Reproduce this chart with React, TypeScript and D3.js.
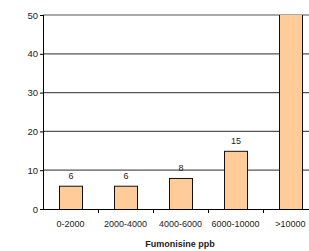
import { useEffect, useRef } from "react";
import * as d3 from "d3";

const categories = ["0-2000", "2000-4000", "4000-6000", "6000-10000", ">10000"];
const values = [6, 6, 8, 15, 65];
const yTicks = [0, 10, 20, 30, 40, 50];
const xTitle = "Fumonisine ppb";

export default function App() {
  const svgRef = useRef<SVGSVGElement>(null);

  useEffect(() => {
    const svg = d3.select(svgRef.current);
    svg.selectAll("*").remove();

    const width = 309;
    const height = 251;
    const left = 43;
    const top = 15;
    const bottom = 209;
    const right = 318;

    const x = d3.scaleBand().domain(categories).range([left, right]).paddingInner(0).paddingOuter(0);
    const y = d3.scaleLinear().domain([0, 50]).range([bottom, top]);
    const font = "Liberation Sans, Arial, sans-serif";

    svg.attr("width", width).attr("height", height);

    svg
      .append("defs")
      .append("clipPath")
      .attr("id", "plot")
      .append("rect")
      .attr("x", left)
      .attr("y", top)
      .attr("width", right - left)
      .attr("height", bottom - top);

    // gridlines
    svg
      .selectAll("line.grid")
      .data(yTicks.filter((d) => d > 0))
      .enter()
      .append("line")
      .attr("x1", left)
      .attr("x2", right)
      .attr("y1", (d) => y(d))
      .attr("y2", (d) => y(d))
      .attr("stroke", "#555")
      .attr("stroke-width", 1.2);

    // bars
    const bw = 23;
    svg
      .append("g")
      .attr("clip-path", "url(#plot)")
      .selectAll("rect")
      .data(values)
      .enter()
      .append("rect")
      .attr("x", (d, i) => x(categories[i])! + x.bandwidth() / 2 - bw / 2 + 0.5)
      .attr("y", (d) => y(d) + 0.5)
      .attr("width", bw)
      .attr("height", (d) => bottom - y(d))
      .attr("fill", "#FFCC99")
      .attr("stroke", "#111")
      .attr("stroke-width", 1);

    // value labels
    svg
      .selectAll("text.val")
      .data(values.filter((d) => d <= 50))
      .enter()
      .append("text")
      .attr("x", (d, i) => x(categories[i])! + x.bandwidth() / 2 + 0.5)
      .attr("y", (d) => y(d) - 7)
      .attr("text-anchor", "middle")
      .attr("font-family", font)
      .attr("font-size", 9)
      .attr("fill", "#222")
      .text((d) => d);

    // y axis
    svg
      .append("line")
      .attr("x1", left + 0.5)
      .attr("x2", left + 0.5)
      .attr("y1", top)
      .attr("y2", bottom)
      .attr("stroke", "#000");
    svg
      .selectAll("line.yt")
      .data(yTicks)
      .enter()
      .append("line")
      .attr("x1", left - 3)
      .attr("x2", left)
      .attr("y1", (d) => y(d) + 0.5)
      .attr("y2", (d) => y(d) + 0.5)
      .attr("stroke", "#000");
    svg
      .selectAll("text.yl")
      .data(yTicks)
      .enter()
      .append("text")
      .attr("x", left - 5)
      .attr("y", (d) => y(d) + 3.5)
      .attr("text-anchor", "end")
      .attr("font-family", font)
      .attr("font-size", 9.5)
      .attr("fill", "#222")
      .text((d) => d);

    // x axis
    svg
      .append("line")
      .attr("x1", left)
      .attr("x2", right)
      .attr("y1", bottom + 0.5)
      .attr("y2", bottom + 0.5)
      .attr("stroke", "#000");
    svg
      .selectAll("line.xt")
      .data(categories.slice(1))
      .enter()
      .append("line")
      .attr("x1", (d) => x(d)! + 0.5)
      .attr("x2", (d) => x(d)! + 0.5)
      .attr("y1", bottom)
      .attr("y2", bottom + 4)
      .attr("stroke", "#000");
    svg
      .selectAll("text.xl")
      .data(categories)
      .enter()
      .append("text")
      .attr("x", (d) => x(d)! + x.bandwidth() / 2)
      .attr("y", bottom + 18)
      .attr("text-anchor", "middle")
      .attr("font-family", font)
      .attr("font-size", 9)
      .attr("fill", "#222")
      .text((d) => d);

    svg
      .append("text")
      .attr("x", 180)
      .attr("y", 247)
      .attr("text-anchor", "middle")
      .attr("font-family", font)
      .attr("font-size", 9)
      .attr("font-weight", "bold")
      .attr("fill", "#222")
      .text(xTitle);
  }, []);

  return <svg ref={svgRef} style={{ position: "absolute", left: 0, top: 0 }}></svg>;
}
